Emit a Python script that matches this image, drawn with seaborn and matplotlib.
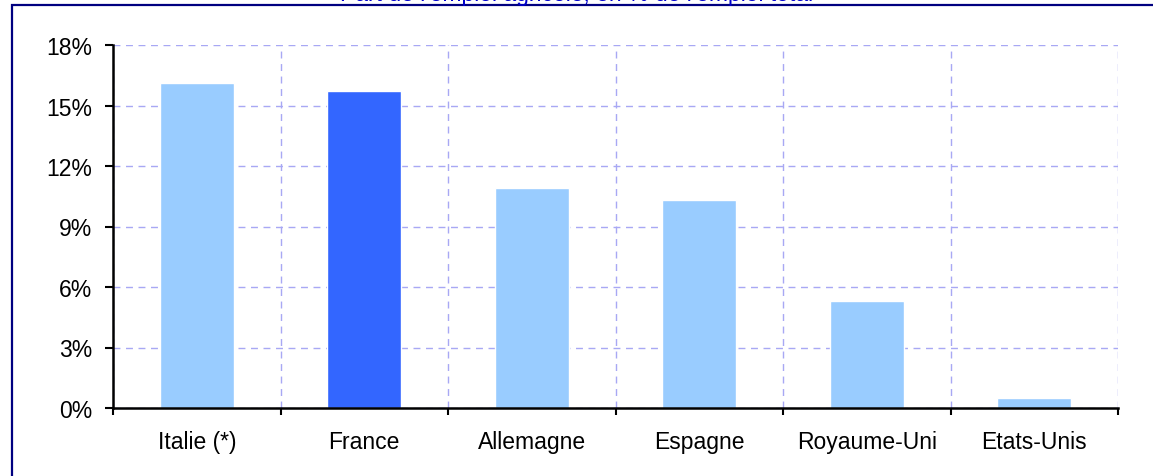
import matplotlib
matplotlib.use("Agg")
import matplotlib.pyplot as plt
import matplotlib.patches as mpatches
from matplotlib.ticker import FixedLocator, PercentFormatter
import seaborn as sns
import pandas as pd

categories = ["Italie (*)", "France", "Allemagne", "Espagne", "Royaume-Uni", "Etats-Unis"]
values = [16.1, 15.7, 10.9, 10.3, 5.3, 0.5]
highlight = ["autre", "France", "autre", "autre", "autre", "autre"]
yticks = [0, 3, 6, 9, 12, 15, 18]
title = "Part de l'emploi agricole, en % de l'emploi total"

sns.set_theme(style="white")
plt.rcParams["font.family"] = ["Liberation Sans", "DejaVu Sans"]

df = pd.DataFrame({"pays": categories, "valeur": values, "groupe": highlight})

fig = plt.figure(figsize=(11.53, 4.77), dpi=100)
ax = fig.add_axes([113 / 1153, 1 - 409 / 477, (1118 - 113) / 1153, (409 - 46) / 477])

sns.barplot(data=df, x="pays", y="valeur", hue="groupe",
            palette={"autre": "#99CCFF", "France": "#3366FF"},
            dodge=False, width=0.44, saturation=1, legend=False, ax=ax)

ax.set_xlim(-0.5, len(categories) - 0.5)
ax.set_ylim(0, 18)
ax.set_yticks(yticks)
ax.yaxis.set_major_formatter(PercentFormatter(decimals=0))
ax.set_xlabel("")
ax.set_ylabel("")

bounds = [i - 0.5 for i in range(len(categories) + 1)]
ax.xaxis.set_minor_locator(FixedLocator(bounds))
ax.tick_params(axis="x", which="major", length=0, labelsize=16.5, colors="black", pad=16)
ax.tick_params(axis="x", which="minor", length=5, width=1.5, direction="out", color="black", bottom=True)
ax.tick_params(axis="y", which="major", length=6, width=1.5, direction="out", labelsize=16.5,
               colors="black", left=True, pad=9)

ax.set_axisbelow(True)
ax.grid(False)
ax.yaxis.grid(True, which="major", linestyle=(0, (5, 4)), color="#A8A8F4", linewidth=1)
ax.xaxis.grid(True, which="minor", linestyle=(0, (5, 4)), color="#A8A8F4", linewidth=1)

for s in ["top", "right"]:
    ax.spines[s].set_visible(False)
for s in ["left", "bottom"]:
    ax.spines[s].set_color("black")
    ax.spines[s].set_linewidth(1.8)

# outer frame
rect = mpatches.Rectangle((12 / 1153, -0.1), 1.2, 1 - 6 / 477 + 0.1, transform=fig.transFigure,
                          fill=False, edgecolor="#000080", linewidth=1.6, clip_on=False)
fig.patches.append(rect)

fig.text(0.50, 1 - 0.5 / 477, title, ha="center", va="baseline", color="#0000CC", fontsize=16.5)

fig.savefig("out.png", dpi=100, facecolor="white")
